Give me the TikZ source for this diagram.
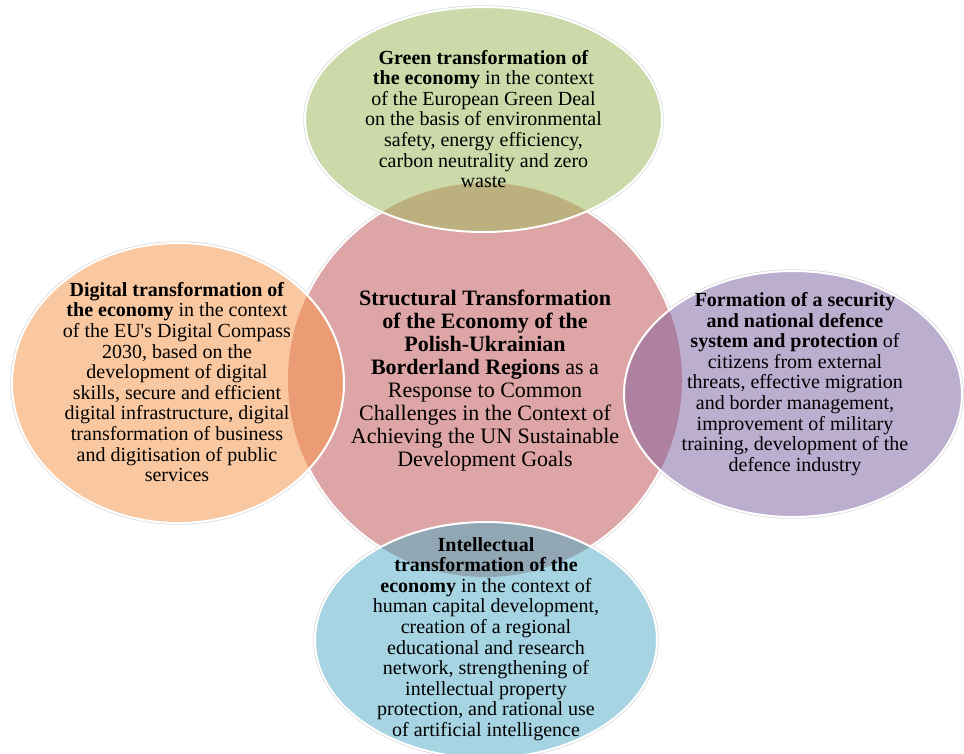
\documentclass[tikz,border=0pt]{standalone}
\usepackage{fontspec}
\setmainfont{Liberation Serif}
\definecolor{cpink}{HTML}{DDA5A5}
\definecolor{cgreen}{HTML}{CCDAAA}
\definecolor{colive}{HTML}{BCB07E}
\definecolor{corange}{HTML}{FAC8A0}
\definecolor{cdorange}{HTML}{EB9C74}
\definecolor{cpurple}{HTML}{BBAECF}
\definecolor{cdpurple}{HTML}{AE81A0}
\definecolor{cblue}{HTML}{A6D4E2}
\definecolor{cgrayblue}{HTML}{91A7B4}
\definecolor{chalo}{HTML}{D8D8D8}
\begin{document}
\begin{tikzpicture}[x=1pt,y=-1pt,
  halo/.style={draw=chalo,line width=3.4pt},
  rim/.style={draw=white,line width=2pt},
  outtext/.style={align=center,inner sep=0pt,font=\fontsize{20}{20.6}\selectfont},
  midtext/.style={align=center,inner sep=0pt,font=\fontsize{22}{23.1}\selectfont}]
\useasboundingbox (0,0) rectangle (964,753);
\def\pinkpath{(485,380) circle [radius=197pt]}
\def\greenpath{(483.5,119.5) ellipse [x radius=178.5pt, y radius=112.5pt]}
\def\orangepath{(178,383) ellipse [x radius=166pt, y radius=140pt]}
\def\purplepath{(793,394) ellipse [x radius=169pt, y radius=123pt]}
\def\bluepath{(486,640) ellipse [x radius=171pt, y radius=118pt]}
% halos
\draw[halo] \pinkpath;
\draw[halo] \greenpath;
\draw[halo] \orangepath;
\draw[halo] \purplepath;
\draw[halo] \bluepath;
% centre circle
\fill[cpink] \pinkpath;
\draw[rim] \pinkpath;
% outer ellipses
\fill[cgreen] \greenpath;
\fill[corange] \orangepath;
\fill[cpurple] \purplepath;
\fill[cblue] \bluepath;
% overlaps
\begin{scope}\clip \greenpath; \fill[colive] \pinkpath;\end{scope}
\begin{scope}\clip \orangepath; \fill[cdorange] \pinkpath;\end{scope}
\begin{scope}\clip \purplepath; \fill[cdpurple] \pinkpath;\end{scope}
\begin{scope}\clip \bluepath; \fill[cgrayblue] \pinkpath;\end{scope}
% rims of outer ellipses
\draw[rim] \greenpath;
\draw[rim] \orangepath;
\draw[rim] \purplepath;
\draw[rim] \bluepath;
% texts
\node[midtext] (centre) at (485,380.5) {\textbf{Structural Transformation}\\
\textbf{of the Economy of the}\\
\textbf{Polish-Ukrainian}\\
\textbf{Borderland Regions} as a\\
Response to Common\\
Challenges in the Context of\\
Achieving the UN Sustainable\\
Development Goals};
\node[outtext] (green) at (483.5,119) {\textbf{Green transformation of}\\
\textbf{the economy} in the context\\
of the European Green Deal\\
on the basis of environmental\\
safety, energy efficiency,\\
carbon neutrality and zero\\
waste};
\node[outtext] (digital) at (177,382) {\textbf{Digital transformation of}\\
\textbf{the economy} in the context\\
of the EU\textquotesingle s Digital Compass\\
2030, based on the\\
development of digital\\
skills, secure and efficient\\
digital infrastructure, digital\\
transformation of business\\
and digitisation of public\\
services};
\node[outtext] (security) at (795,384) {\textbf{Formation of a security}\\
\textbf{and national defence}\\
\textbf{system and protection} of\\
citizens from external\\
threats, effective migration\\
and border management,\\
improvement of military\\
training, development of the\\
defence industry};
\node[outtext] (intellect) at (486,639) {\textbf{Intellectual}\\
\textbf{transformation of the}\\
\textbf{economy} in the context of\\
human capital development,\\
creation of a regional\\
educational and research\\
network, strengthening of\\
intellectual property\\
protection, and rational use\\
of artificial intelligence};
\end{tikzpicture}
\end{document}
